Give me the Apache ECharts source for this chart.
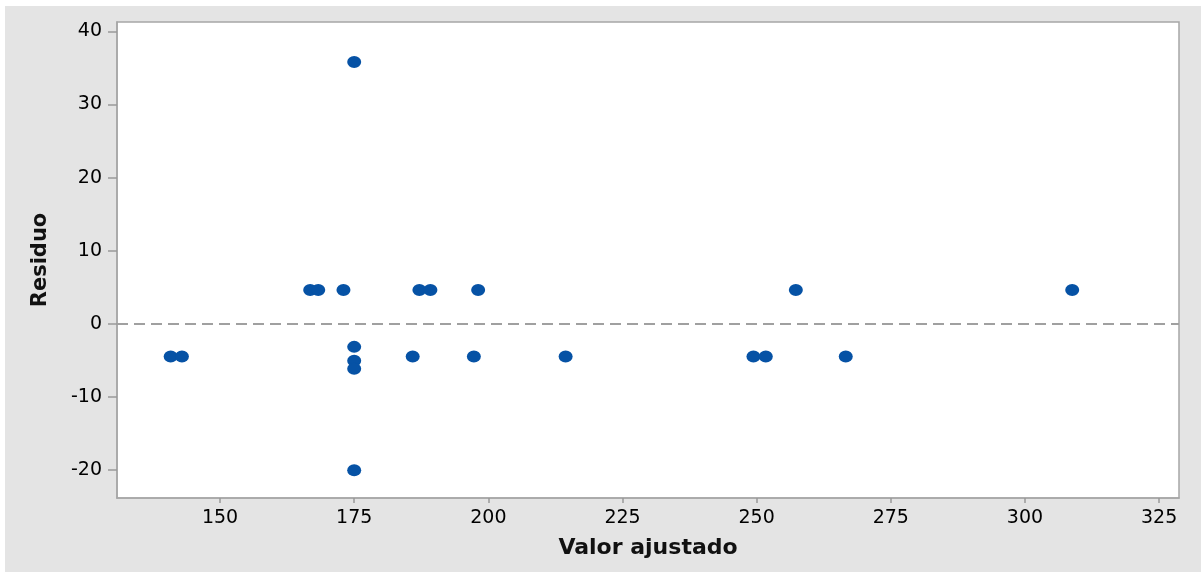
<!DOCTYPE html>
<html>
<head>
<meta charset="utf-8">
<script src="https://cdn.jsdelivr.net/npm/echarts@6/dist/echarts.min.js"></script>
<style>
  html, body { margin: 0; padding: 0; background: #ffffff; }
  #chart { position: absolute; left: 5px; top: 6px; width: 1196px; height: 566px; background: #e4e4e4; }
</style>
</head>
<body>
<div id="chart"></div>
<script>
// Fitted values (Valor ajustado)
const fittedValues = [140.8, 142.9, 166.8, 168.3, 173.0, 175.0, 175.0, 175.0, 175.0, 175.0,
                      185.9, 187.15, 189.2, 197.3, 198.1, 214.4, 249.4, 251.7, 257.3, 266.6, 308.8];
// Residuals (Residuo)
const residuals = [-4.46, -4.46, 4.64, 4.64, 4.64, 35.8, -3.14, -5.05, -6.14, -20.0,
                   -4.46, 4.64, 4.64, -4.46, 4.64, -4.46, -4.46, -4.46, 4.64, -4.46, 4.64];
const xTicks = [150, 175, 200, 225, 250, 275, 300, 325];
const yTicks = [-20, -10, 0, 10, 20, 30, 40];
const xTitle = 'Valor ajustado';
const yTitle = 'Residuo';

const points = fittedValues.map((x, i) => [x, residuals[i]]);

const chart = echarts.init(document.getElementById('chart'), null, { renderer: 'canvas' });
const font = 'DejaVu Sans';
chart.setOption({
  backgroundColor: 'transparent',
  animation: false,
  grid: {
    left: 112, top: 16, right: 22, bottom: 74,
    show: true, backgroundColor: '#ffffff', borderColor: '#a6a6a6', borderWidth: 1.5
  },
  xAxis: {
    type: 'value',
    min: 130.8, max: 328.7,
    name: xTitle,
    nameLocation: 'middle',
    nameGap: 39,
    nameTextStyle: { fontFamily: font, fontSize: 22, fontWeight: 'bold', color: '#111' },
    axisLine: { show: true, onZero: false, lineStyle: { color: '#a6a6a6', width: 1.5 } },
    axisTick: { show: true, inside: false, length: 5, lineStyle: { color: '#999', width: 1.5 }, customValues: xTicks },
    axisLabel: { customValues: xTicks, margin: 11, fontFamily: font, fontSize: 19, color: '#000' },
    splitLine: { show: false }
  },
  yAxis: {
    type: 'value',
    min: -23.8, max: 41.27,
    name: yTitle,
    nameLocation: 'middle',
    nameRotate: 90,
    nameGap: 66,
    nameTextStyle: { fontFamily: font, fontSize: 21, fontWeight: 'bold', color: '#111' },
    axisLine: { show: true, onZero: false, lineStyle: { color: '#a6a6a6', width: 1.5 } },
    axisTick: { show: true, inside: false, length: 9, lineStyle: { color: '#999', width: 1.5 }, customValues: yTicks },
    axisLabel: { customValues: yTicks, margin: 15, fontFamily: font, fontSize: 19, color: '#000' },
    splitLine: { show: false }
  },
  series: [{
    type: 'scatter',
    data: points,
    symbol: 'circle',
    symbolSize: [14, 12],
    itemStyle: { color: '#0652a5', opacity: 1 },
    markLine: {
      silent: true,
      symbol: 'none',
      label: { show: false },
      lineStyle: { type: [11, 6], color: '#a0a0a0', width: 2 },
      data: [{ yAxis: 0 }]
    }
  }]
});
</script>
</body>
</html>
